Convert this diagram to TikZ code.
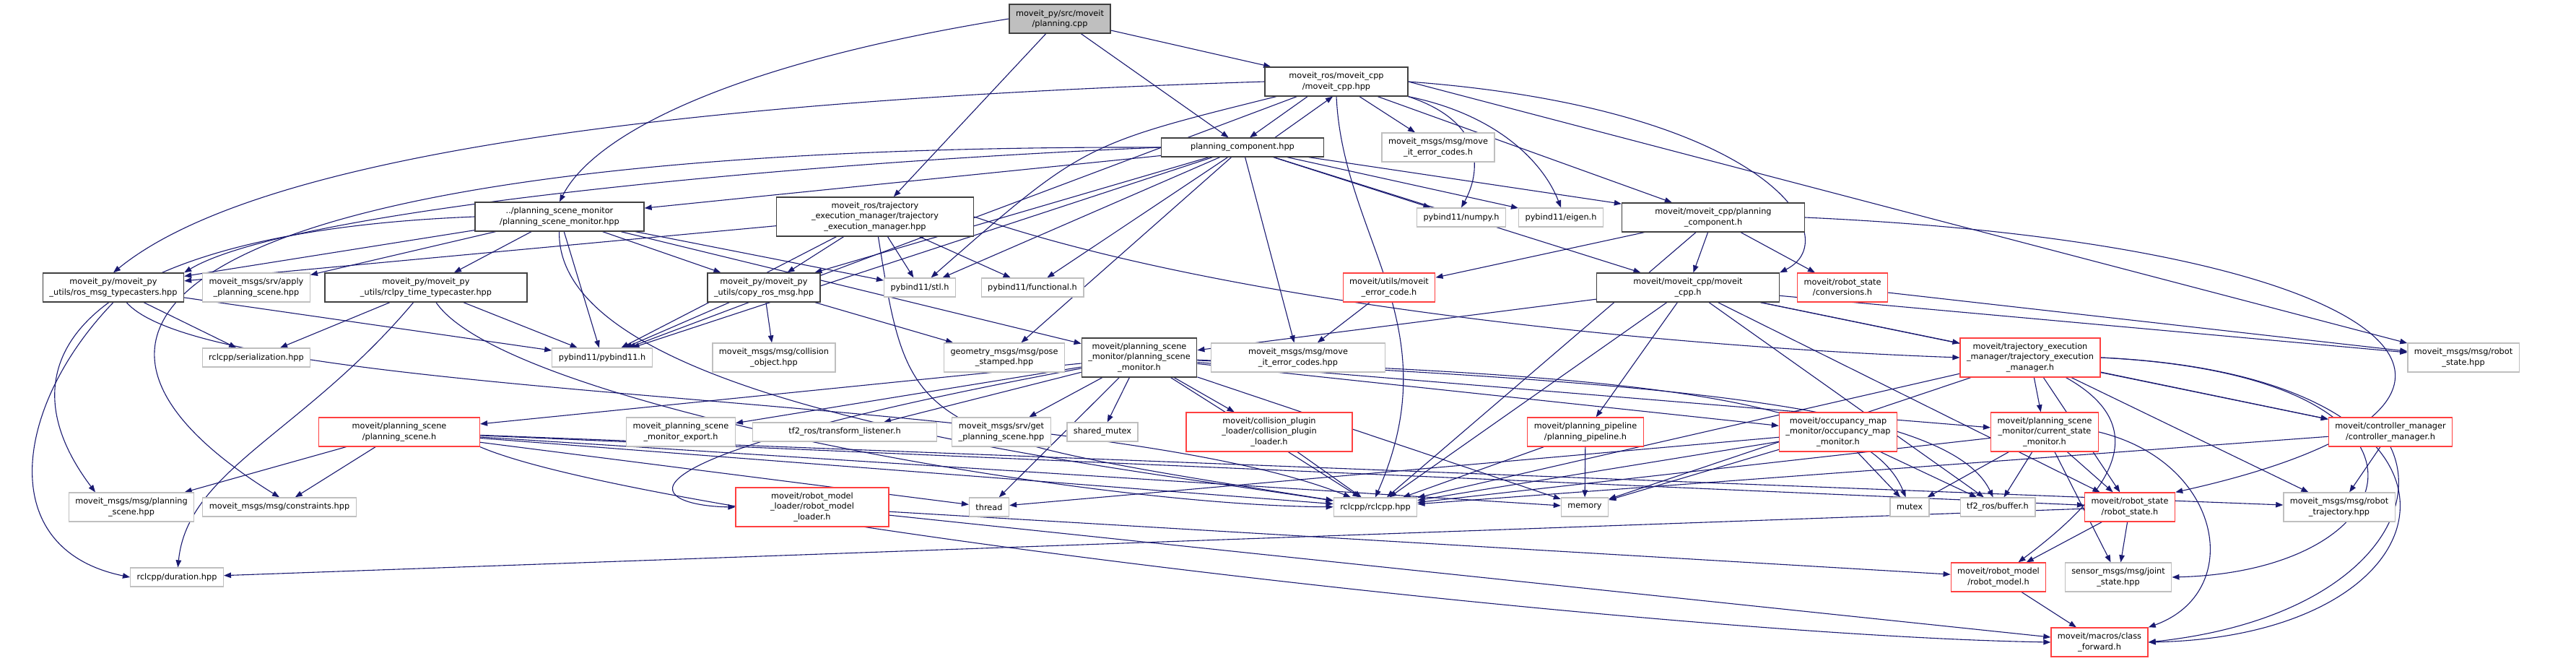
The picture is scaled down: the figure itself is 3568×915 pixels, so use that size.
\documentclass[tikz,border=0pt]{standalone}
\usepackage{fontspec}
\setmainfont{DejaVu Sans}
\usetikzlibrary{arrows.meta, backgrounds}
\definecolor{edgeblue}{HTML}{191970}
\definecolor{boxgray}{HTML}{BFBFBF}
\definecolor{boxdark}{HTML}{404040}
\definecolor{boxred}{HTML}{FF4040}
\tikzset{
  hdr/.style     ={draw=boxdark, rectangle, align=center, fill=white, line width=1.3pt, inner xsep=9pt, inner ysep=1pt, minimum height=26pt, font=\fontsize{11.3}{14.2}\selectfont},
  roothdr/.style ={hdr, fill=boxgray},
  sysfile/.style ={hdr, draw=boxgray},
  trunc/.style   ={hdr, draw=boxred},
  tall/.style    ={minimum height=40pt},
  taller/.style  ={minimum height=54pt},
  inc/.style     ={-{Triangle[length=10pt, width=7.5pt]}, line width=1.1pt, edgeblue},  % #include
}
\begin{document}
\begin{tikzpicture}[x=1pt, y=-1pt]
  \useasboundingbox (0,0) rectangle (3568,915);
  % sources of the moveit_py bindings
  \node[roothdr, tall] (planning) at (1468,26)  {moveit\_py/src/moveit\\/planning.cpp};
  \node[hdr, tall, minimum width=198pt] (cpphpp) at (1851,113) {moveit\_ros/moveit\_cpp\\/moveit\_cpp.hpp};
  \node[hdr, minimum width=225pt] (pchpp) at (1721,204) {planning\_component.hpp};
  \node[sysfile, tall] (errh)     at (1992,204) {moveit\_msgs/msg/move\\\_it\_error\_codes.h};
  \node[hdr, tall, minimum width=234pt] (psmhpp) at (775,300) {../planning\_scene\_monitor\\/planning\_scene\_monitor.hpp};
  \node[hdr, taller, minimum width=273pt] (temhpp) at (1212,300) {moveit\_ros/trajectory\\\_execution\_manager/trajectory\\\_execution\_manager.hpp};
  \node[sysfile]       (numpy)    at (2024,301) {pybind11/numpy.h};
  \node[sysfile]       (eigen)    at (2162,301) {pybind11/eigen.h};
  \node[hdr, tall, minimum width=253pt] (pch) at (2373,301) {moveit/moveit\_cpp/planning\\\_component.h};
  \node[hdr, tall]     (typec)    at (157,398)  {moveit\_py/moveit\_py\\\_utils/ros\_msg\_typecasters.hpp};
  \node[sysfile, tall] (applyps)  at (355,398)  {moveit\_msgs/srv/apply\\\_planning\_scene.hpp};
  \node[hdr, tall, minimum width=280pt] (rclpyt) at (590,398) {moveit\_py/moveit\_py\\\_utils/rclpy\_time\_typecaster.hpp};
  \node[hdr, tall]     (copymsg)  at (1058,398) {moveit\_py/moveit\_py\\\_utils/copy\_ros\_msg.hpp};
  \node[sysfile]       (stl)      at (1274,398) {pybind11/stl.h};
  \node[sysfile]       (functional) at (1430,398) {pybind11/functional.h};
  \node[trunc, tall]   (errcode)  at (1924,398) {moveit/utils/moveit\\\_error\_code.h};
  \node[hdr, tall, minimum width=253pt] (cpph) at (2338,398) {moveit/moveit\_cpp/moveit\\\_cpp.h};
  \node[trunc, tall]   (conv)     at (2552,398) {moveit/robot\_state\\/conversions.h};
  \node[sysfile]       (serial)   at (355,495)  {rclcpp/serialization.hpp};
  \node[sysfile]       (pyb)      at (834,495)  {pybind11/pybind11.h};
  \node[sysfile, tall] (collobj)  at (1072,495) {moveit\_msgs/msg/collision\\\_object.hpp};
  \node[sysfile, tall] (pose)     at (1391,495) {geometry\_msgs/msg/pose\\\_stamped.hpp};
  \node[hdr, taller]   (psmh)     at (1578,495) {moveit/planning\_scene\\\_monitor/planning\_scene\\\_monitor.h};
  \node[sysfile, tall, minimum width=241pt] (errhpp) at (1798,495) {moveit\_msgs/msg/move\\\_it\_error\_codes.hpp};
  \node[trunc, taller] (temh)     at (2812,495) {moveit/trajectory\_execution\\\_manager/trajectory\_execution\\\_manager.h};
  \node[sysfile, tall] (rsmsg)    at (3412,495) {moveit\_msgs/msg/robot\\\_state.hpp};
  \node[trunc, tall, minimum width=223pt] (psh) at (553,598) {moveit/planning\_scene\\/planning\_scene.h};
  \node[sysfile, tall] (export)   at (943,598)  {moveit\_planning\_scene\\\_monitor\_export.h};
  \node[sysfile, minimum width=255pt] (tflisten) at (1170,598) {tf2\_ros/transform\_listener.h};
  \node[sysfile, tall] (getps)    at (1387,598) {moveit\_msgs/srv/get\\\_planning\_scene.hpp};
  \node[sysfile]       (shmutex)  at (1527,598) {shared\_mutex};
  \node[trunc, taller, minimum width=230pt] (cpl) at (1758,598) {moveit/collision\_plugin\\\_loader/collision\_plugin\\\_loader.h};
  \node[trunc, tall]   (ppl)      at (2196,598) {moveit/planning\_pipeline\\/planning\_pipeline.h};
  \node[trunc, taller] (ocm)      at (2546,598) {moveit/occupancy\_map\\\_monitor/occupancy\_map\\\_monitor.h};
  \node[trunc, taller] (csm)      at (2832,598) {moveit/planning\_scene\\\_monitor/current\_state\\\_monitor.h};
  \node[trunc, tall]   (ctrl)     at (3311,598) {moveit/controller\_manager\\/controller\_manager.h};
  \node[sysfile, tall] (psmsg)    at (182,702)  {moveit\_msgs/msg/planning\\\_scene.hpp};
  \node[sysfile]       (constr)   at (387,702)  {moveit\_msgs/msg/constraints.hpp};
  \node[trunc, taller, minimum width=212pt] (rml) at (1125,702) {moveit/robot\_model\\\_loader/robot\_model\\\_loader.h};
  \node[sysfile]       (thread)   at (1370,702) {thread};
  \node[sysfile]       (rclcpp)   at (1905,702) {rclcpp/rclcpp.hpp};
  \node[sysfile]       (memory)   at (2195,702) {memory};
  \node[sysfile]       (mutex)    at (2645,702) {mutex};
  \node[sysfile]       (buffer)   at (2767,702) {tf2\_ros/buffer.h};
  \node[trunc, tall]   (rsh)      at (2950,702) {moveit/robot\_state\\/robot\_state.h};
  \node[sysfile, tall] (rtraj)    at (3240,702) {moveit\_msgs/msg/robot\\\_trajectory.hpp};
  \node[sysfile]       (duration) at (245,799)  {rclcpp/duration.hpp};
  \node[trunc, tall]   (rmh)      at (2768,799) {moveit/robot\_model\\/robot\_model.h};
  \node[sysfile, tall] (joint)    at (2934,799) {sensor\_msgs/msg/joint\\\_state.hpp};
  \node[trunc, tall]   (cfwd)     at (2908,889) {moveit/macros/class\\\_forward.h};

  \begin{scope}[on background layer]
    % planning.cpp
    \draw[inc] (planning.west) .. controls (1000,90) and (820,190) .. (psmhpp.north);
    \draw[inc] (planning) -- (temhpp);
    \draw[inc] (planning) -- (pchpp);
    \draw[inc] (planning) -- (cpphpp);
    % moveit_cpp.hpp
    \draw[inc] ([xshift=-40pt]cpphpp.south) -- ([xshift=10pt]pchpp.north);
    \draw[inc] ([xshift=45pt]pchpp.north) -- ([xshift=-5pt]cpphpp.south);
    \draw[inc] (cpphpp) -- (errh);
    \draw[inc] (cpphpp.south east) .. controls (2060,170) and (2050,240) .. (numpy.north);
    \draw[inc] (cpphpp.south east) .. controls (2080,160) and (2140,230) .. (eigen.north);
    \draw[inc] (cpphpp) -- (pch);
    \draw[inc] (cpphpp.east) .. controls (2450,150) and (2560,330) .. (cpph.north east);
    \draw[inc] (cpphpp.east) -- (rsmsg);
    \draw[inc] (cpphpp.south) .. controls (1860,330) and (2010,450) .. (rclcpp.north);
    \draw[inc] (cpphpp.west) .. controls (900,140) and (350,220) .. (typec.north);
    \draw[inc] (cpphpp) .. controls (1500,200) .. (stl);
    \draw[inc] (cpphpp) -- (pyb);
    % planning_component.hpp
    \draw[inc] (pchpp) -- (psmhpp);
    \draw[inc] (pchpp.west) .. controls (1100,225) and (400,290) .. (typec.north east);
    \draw[inc] (pchpp) -- (copymsg);
    \draw[inc] (pchpp) -- (stl);
    \draw[inc] (pchpp) -- (functional);
    \draw[inc] (pchpp) -- (numpy);
    \draw[inc] (pchpp) -- (eigen);
    \draw[inc] (pchpp) -- (pch);
    \draw[inc] (pchpp) -- (cpph);
    \draw[inc] (pchpp) -- (pose);
    \draw[inc] (pchpp) -- (errhpp);
    \draw[inc] (pchpp) -- (pyb);
    \draw[inc] (pchpp.west) .. controls (300,200) and (-30,430) .. (constr.north);
    % planning_scene_monitor.hpp
    \draw[inc] (psmhpp) -- (typec);
    \draw[inc] (psmhpp) -- (applyps);
    \draw[inc] (psmhpp) -- (rclpyt);
    \draw[inc] (psmhpp) -- (copymsg);
    \draw[inc] (psmhpp) -- (stl);
    \draw[inc] (psmhpp) -- (pyb);
    \draw[inc] (psmhpp) -- (psmh);
    \draw[inc] (psmhpp.west) .. controls (150,320) and (-20,480) .. ([xshift=-50pt]psmsg.north);
    \draw[inc] (psmhpp) .. controls (770,560) and (1500,640) .. (rclcpp);
    % trajectory_execution_manager.hpp
    \draw[inc] (temhpp) -- (typec);
    \draw[inc] (temhpp) -- (copymsg);
    \draw[inc] (temhpp) -- (stl);
    \draw[inc] (temhpp) -- (functional);
    \draw[inc] (temhpp) -- (pyb);
    \draw[inc] (temhpp.east) .. controls (1700,420) and (2300,480) .. (temh.west);
    \draw[inc] (temhpp) .. controls (1260,600) .. (rclcpp);
    % python utils
    \draw[inc] (typec.south) .. controls (20,560) and (-10,760) .. (duration.west);
    \draw[inc] (typec) -- (serial);
    \draw[inc] (typec) -- (pyb);
    \draw[inc] (typec) .. controls (300,560) and (1500,540) .. (rclcpp);
    \draw[inc] (rclpyt) -- (serial);
    \draw[inc] (rclpyt) -- (pyb);
    \draw[inc] (rclpyt) .. controls (420,600) and (260,650) .. (duration);
    \draw[inc] (rclpyt) .. controls (700,560) and (1500,700) .. (rclcpp);
    \draw[inc] (copymsg) -- (pyb);
    \draw[inc] (copymsg) -- (collobj);
    \draw[inc] (copymsg) -- (pose);
    % moveit_cpp headers
    \draw[inc] (pch) -- (errcode);
    \draw[inc] (pch) -- (cpph);
    \draw[inc] (pch) -- (conv);
    \draw[inc] (pch.east) .. controls (3350,340) and (3560,560) .. (rsh.north east);
    \draw[inc] (pch) -- (rclcpp);
    \draw[inc] (errcode) -- (errhpp);
    \draw[inc] (cpph) -- (psmh);
    \draw[inc] (cpph) -- (temh);
    \draw[inc] (cpph) -- (ppl);
    \draw[inc] (cpph) -- (rclcpp);
    \draw[inc] (cpph) -- (rsmsg);
    \draw[inc] (cpph) -- (rsh);
    \draw[inc] (cpph) -- (ctrl);
    \draw[inc] (cpph) -- (buffer);
    \draw[inc] (conv) -- (rsmsg);
    % planning_scene_monitor.h
    \draw[inc] (psmh) -- (psh);
    \draw[inc] (psmh) -- (export);
    \draw[inc] (psmh) -- (tflisten);
    \draw[inc] (psmh) -- (getps);
    \draw[inc] (psmh) -- (shmutex);
    \draw[inc] (psmh) -- (cpl);
    \draw[inc] (psmh) -- (rclcpp);
    \draw[inc] (psmh) -- (memory);
    \draw[inc] (psmh) -- (thread);
    \draw[inc] (psmh) -- (ocm);
    \draw[inc] (psmh) -- (csm);
    \draw[inc] (psmh) .. controls (2200,520) and (2580,540) .. (mutex);
    \draw[inc] (psmh) .. controls (2300,530) and (2700,560) .. (buffer);
    \draw[inc] (psmh) .. controls (800,640) and (900,700) .. (rml.west);
    % planning_scene.h
    \draw[inc] (psh) -- (psmsg);
    \draw[inc] (psh) -- (constr);
    \draw[inc] (psh) -- (thread);
    \draw[inc] (psh) -- (rclcpp);
    \draw[inc] (psh) -- (rsh);
    \draw[inc] (psh) -- (rtraj);
    \draw[inc] (psh) -- (memory);
    \draw[inc] (psh.south east) .. controls (900,720) and (2300,880) .. (cfwd.west);
    % the rest
    \draw[inc] (rml) -- (rmh);
    \draw[inc] (rml) -- (cfwd);
    \draw[inc] (cpl) -- (rclcpp);
    \draw[inc] (ppl) -- (rclcpp);
    \draw[inc] (ppl) -- (memory);
    \draw[inc] (ocm) -- (mutex);
    \draw[inc] (ocm) -- (buffer);
    \draw[inc] (ocm) -- (rclcpp);
    \draw[inc] (ocm) -- (memory);
    \draw[inc] (ocm) -- (thread);
    \draw[inc] (csm) -- (mutex);
    \draw[inc] (csm) -- (buffer);
    \draw[inc] (csm) -- (rsh);
    \draw[inc] (csm) -- (joint);
    \draw[inc] (csm) -- (rclcpp);
    \draw[inc] (csm.east) .. controls (3080,640) and (3110,820) .. (cfwd.north east);
    \draw[inc] (temh) -- (csm);
    \draw[inc] (temh) .. controls (3000,600) and (2900,700) .. (rmh);
    \draw[inc] (temh) -- (rtraj);
    \draw[inc] (temh) -- (ctrl);
    \draw[inc] (temh.east) .. controls (3480,520) and (3420,880) .. (cfwd.east);
    \draw[inc] (temh.east) .. controls (3420,520) and (3350,790) .. (joint.east);
    \draw[inc] (temh) -- (rclcpp);
    \draw[inc] (temh) -- (memory);
    \draw[inc] (temh) -- (rsh);
    \draw[inc] (ctrl) -- (rtraj);
    \draw[inc] (ctrl.south) .. controls (3360,720) and (3250,860) .. (cfwd.east);
    \draw[inc] (ctrl) -- (rclcpp);
    \draw[inc] (rsh) -- (rmh);
    \draw[inc] (rsh) -- (joint);
    \draw[inc] (rsh) -- (duration);
    \draw[inc] (rmh) -- (cfwd);
  \end{scope}
\end{tikzpicture}
\end{document}
